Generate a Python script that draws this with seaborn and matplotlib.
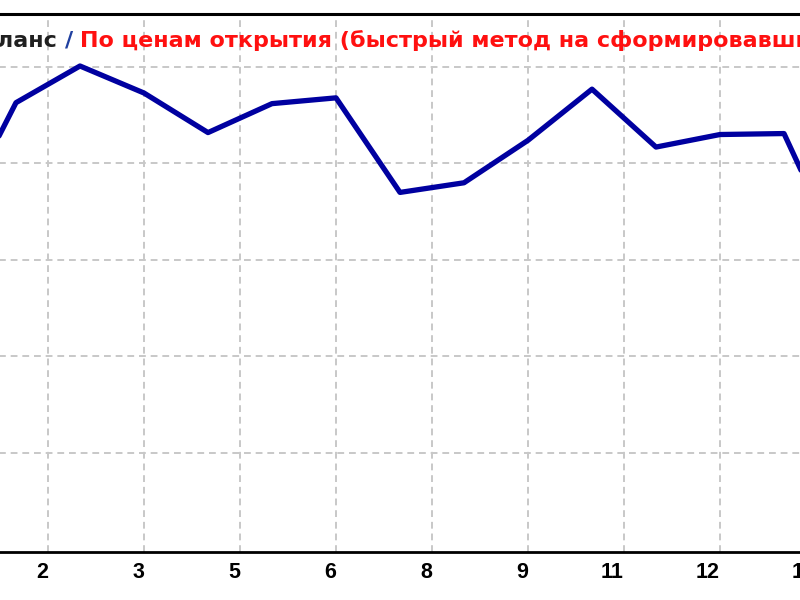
import matplotlib
matplotlib.use("Agg")
import matplotlib.pyplot as plt
import matplotlib.transforms as mtransforms
import pandas as pd
import seaborn as sns

# balance after each trade (y-axis labels are cropped away)
trades = [0, 1, 2, 3, 4, 5, 6, 7, 8, 9, 10, 11, 12, 13, 14]
balance = [9833, 9963, 10001, 9973, 9932, 9962, 9968, 9870, 9880, 9924, 9977, 9917, 9930, 9931, 9788]

# x tick positions and the labels MT4 prints for them (rounded)
tick_pos = [1.5, 3, 4.5, 6, 7.5, 9, 10.5, 12, 13.5]
tick_labels = ["2", "3", "5", "6", "8", "9", "11", "12", "14"]
grid_levels = [9600, 9700, 9800, 9900, 10000]

df = pd.DataFrame({"trade": trades, "balance": balance})

sns.set_style("white")
plt.rcParams["font.family"] = ["DejaVu Sans"]

fig = plt.figure(figsize=(8, 6), dpi=100)
# axes runs past the left/right edges, like a cropped screenshot
ax = fig.add_axes([-0.1, 0.08, 1.2, 0.8967])

for y in grid_levels:
    ax.axhline(y, color="#c8c8c8", lw=1.4, ls=(0, (3.5, 2.5)), zorder=0)
for x in tick_pos:
    ax.axvline(x, color="#c8c8c8", lw=1.4, ls=(0, (3.5, 2.5)), zorder=0)

sns.lineplot(data=df, x="trade", y="balance", color="#0000a0", lw=3.8, ax=ax, zorder=3)

ax.set_xlim(-0.5, 14.5)
ax.set_ylim(9497.4, 10054.9)
ax.set_xlabel("")
ax.set_ylabel("")
ax.set_yticks([])

ax.set_xticks(tick_pos)
ax.set_xticklabels(tick_labels, fontsize=15.5, color="black",
                   family=["Liberation Sans", "DejaVu Sans"], fontweight="bold")
shift = mtransforms.ScaledTranslation(-3 / 100, 0, fig.dpi_scale_trans)
for lab in ax.get_xticklabels():
    lab.set_horizontalalignment("right")
    lab.set_transform(lab.get_transform() + shift)
ax.tick_params(axis="x", direction="out", length=3, width=1.5, color="black", pad=4)

for side in ["left", "right"]:
    ax.spines[side].set_visible(False)
ax.spines["bottom"].set_linewidth(2.0)
ax.spines["top"].set_linewidth(2.2)
ax.spines["bottom"].set_color("black")
ax.spines["top"].set_color("black")

# title line, partly cut off at the left like the source
title_kw = dict(fontsize=16, fontweight="bold")
t1 = fig.text(-35 / 800, (600 - 47) / 600, "Баланс ", color="#202020", va="baseline", **title_kw)
t2 = ax.annotate("/ ", xycoords=t1, xy=(1, 0), va="bottom", color="#2040a0", **title_kw)
t3 = ax.annotate("По ценам открытия (быстрый метод на сформировавшихся барах)",
                 xycoords=t2, xy=(1, 0), va="bottom", color="#ff1010", **title_kw)

fig.savefig("out.png", dpi=100)
